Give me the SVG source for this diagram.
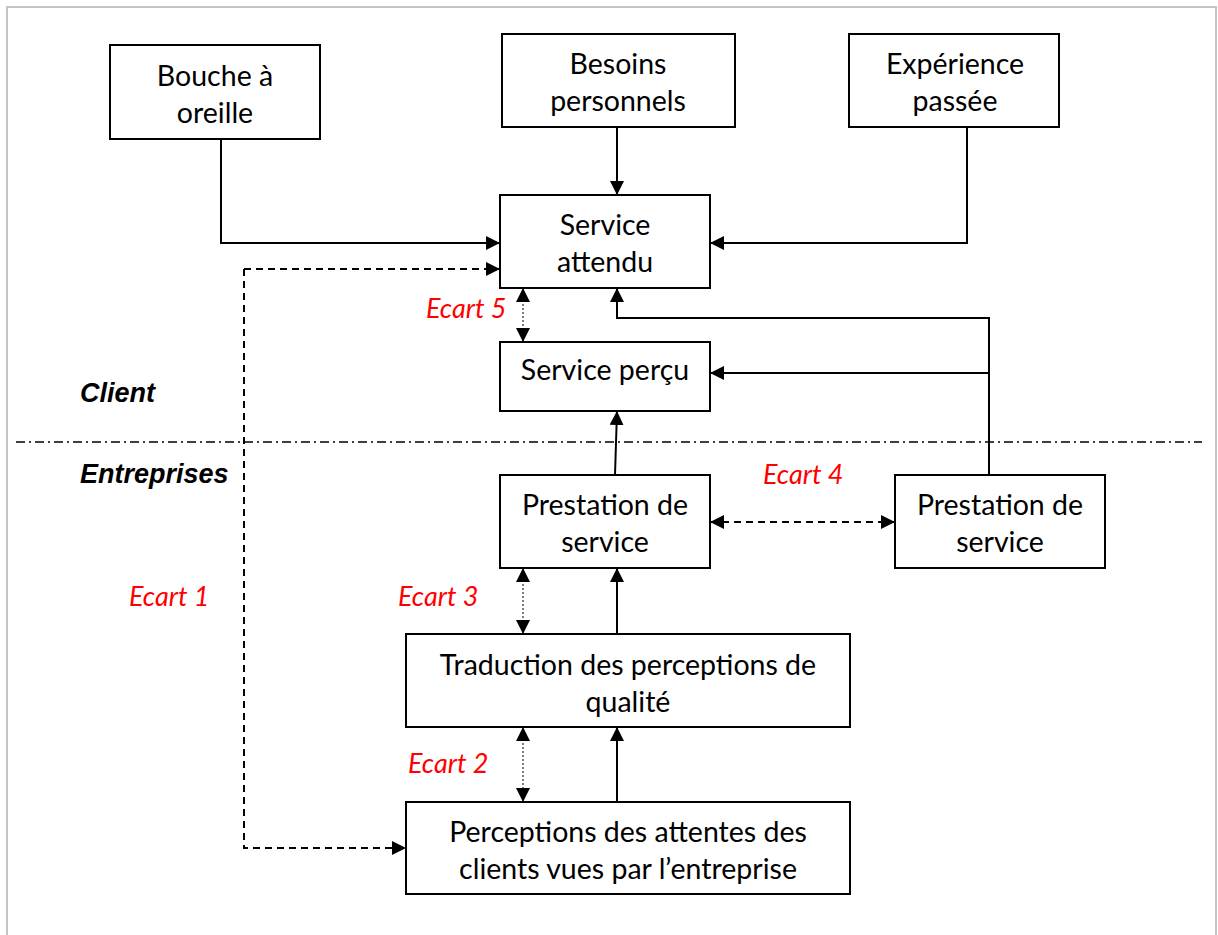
<svg xmlns="http://www.w3.org/2000/svg" width="1218" height="935" viewBox="0 0 1218 935">
  <defs>
    <marker id="arrow" viewBox="0 0 10 10" refX="10" refY="5" markerWidth="14" markerHeight="14" markerUnits="userSpaceOnUse" orient="auto-start-reverse">
      <path d="M0,0 L10,5 L0,10 z" fill="#000"/>
    </marker>
  </defs>
  <style>
    .box { fill: #fff; stroke: #000; stroke-width: 2; }
    .lbl { font-family: Lato, "Liberation Sans", sans-serif; font-size: 28.5px; fill: #000; text-anchor: middle; }
    .side { font-family: "Liberation Sans", Arial, sans-serif; font-size: 27px; font-weight: bold; font-style: italic; fill: #000; }
    .gap { font-family: Lato, "Liberation Sans", sans-serif; font-size: 27px; font-style: italic; fill: #ff0000; }
    .solid { fill: none; stroke: #000; stroke-width: 2; }
    .dash { fill: none; stroke: #000; stroke-width: 2; stroke-dasharray: 7 5; }
    .dot { fill: none; stroke: #555; stroke-width: 1.5; stroke-dasharray: 2 2; }
    .sep { fill: none; stroke: #000; stroke-width: 1.5; stroke-dasharray: 9 4 2 4; }
  </style>

  <rect width="1218" height="935" fill="#fff"/>
  <!-- page frame -->
  <path d="M7,940 V7 H1216 V940" fill="none" stroke="#c4c4c4" stroke-width="2"/>

  <!-- client / company boundary -->
  <line class="sep" x1="16" y1="442" x2="1202" y2="442"/>
  <text class="side" x="80" y="402">Client</text>
  <text class="side" x="80" y="483">Entreprises</text>

  <g id="connectors">
    <polyline class="solid" points="221,139 221,243 500,243" marker-end="url(#arrow)"/>
    <line class="solid" x1="617" y1="127" x2="617" y2="195" marker-end="url(#arrow)"/>
    <polyline class="solid" points="967,127 967,243 710,243" marker-end="url(#arrow)"/>
    <polyline class="solid" points="989,475 989,318 617,318 617,288" marker-end="url(#arrow)"/>
    <line class="solid" x1="989" y1="373" x2="710" y2="373" marker-end="url(#arrow)"/>
    <line class="solid" x1="615" y1="475" x2="617" y2="411" marker-end="url(#arrow)"/>
    <line class="solid" x1="617" y1="634" x2="617" y2="568" marker-end="url(#arrow)"/>
    <line class="solid" x1="617" y1="802" x2="617" y2="727" marker-end="url(#arrow)"/>
    <!-- Ecart 1 -->
    <line class="dash" x1="244" y1="269" x2="500" y2="269" marker-end="url(#arrow)"/>
    <polyline class="dash" points="244,269 244,848 406,848" marker-end="url(#arrow)"/>
    <!-- Ecart 4 -->
    <line class="dash" x1="710" y1="522" x2="895" y2="522" marker-start="url(#arrow)" marker-end="url(#arrow)"/>
    <!-- Ecart 5, 3, 2 -->
    <line class="dot" x1="523" y1="288" x2="523" y2="342" marker-start="url(#arrow)" marker-end="url(#arrow)"/>
    <line class="dot" x1="523" y1="568" x2="523" y2="634" marker-start="url(#arrow)" marker-end="url(#arrow)"/>
    <line class="dot" x1="523" y1="727" x2="523" y2="802" marker-start="url(#arrow)" marker-end="url(#arrow)"/>
  </g>

  <g id="bouche">
    <rect class="box" x="110" y="45" width="210" height="94"/>
    <text class="lbl" x="215" y="86">Bouche à</text>
    <text class="lbl" x="215" y="123">oreille</text>
  </g>
  <g id="besoins">
    <rect class="box" x="502" y="34" width="233" height="93"/>
    <text class="lbl" x="618" y="74">Besoins</text>
    <text class="lbl" x="618" y="111">personnels</text>
  </g>
  <g id="experience">
    <rect class="box" x="849" y="34" width="210" height="93"/>
    <text class="lbl" x="955" y="74">Expérience</text>
    <text class="lbl" x="955" y="111">passée</text>
  </g>
  <g id="service-attendu">
    <rect class="box" x="500" y="195" width="210" height="93"/>
    <text class="lbl" x="605" y="235">Service</text>
    <text class="lbl" x="605" y="272">attendu</text>
  </g>
  <g id="service-percu">
    <rect class="box" x="500" y="342" width="210" height="69"/>
    <text class="lbl" x="605" y="380">Service perçu</text>
  </g>
  <g id="prestation-1">
    <rect class="box" x="500" y="475" width="210" height="93"/>
    <text class="lbl" x="605" y="515">Prestation de</text>
    <text class="lbl" x="605" y="552">service</text>
  </g>
  <g id="prestation-2">
    <rect class="box" x="895" y="475" width="210" height="93"/>
    <text class="lbl" x="1000" y="515">Prestation de</text>
    <text class="lbl" x="1000" y="552">service</text>
  </g>
  <g id="traduction">
    <rect class="box" x="406" y="634" width="444" height="93"/>
    <text class="lbl" x="628" y="675">Traduction des perceptions de</text>
    <text class="lbl" x="628" y="712">qualité</text>
  </g>
  <g id="perceptions">
    <rect class="box" x="406" y="802" width="444" height="92"/>
    <text class="lbl" x="628" y="842">Perceptions des attentes des</text>
    <text class="lbl" x="628" y="879">clients vues par l’entreprise</text>
  </g>

  <g id="gaps">
    <text class="gap" x="426" y="318">Ecart 5</text>
    <text class="gap" x="763" y="484">Ecart 4</text>
    <text class="gap" x="129" y="606">Ecart 1</text>
    <text class="gap" x="398" y="606">Ecart 3</text>
    <text class="gap" x="408" y="773">Ecart 2</text>
  </g>
</svg>
